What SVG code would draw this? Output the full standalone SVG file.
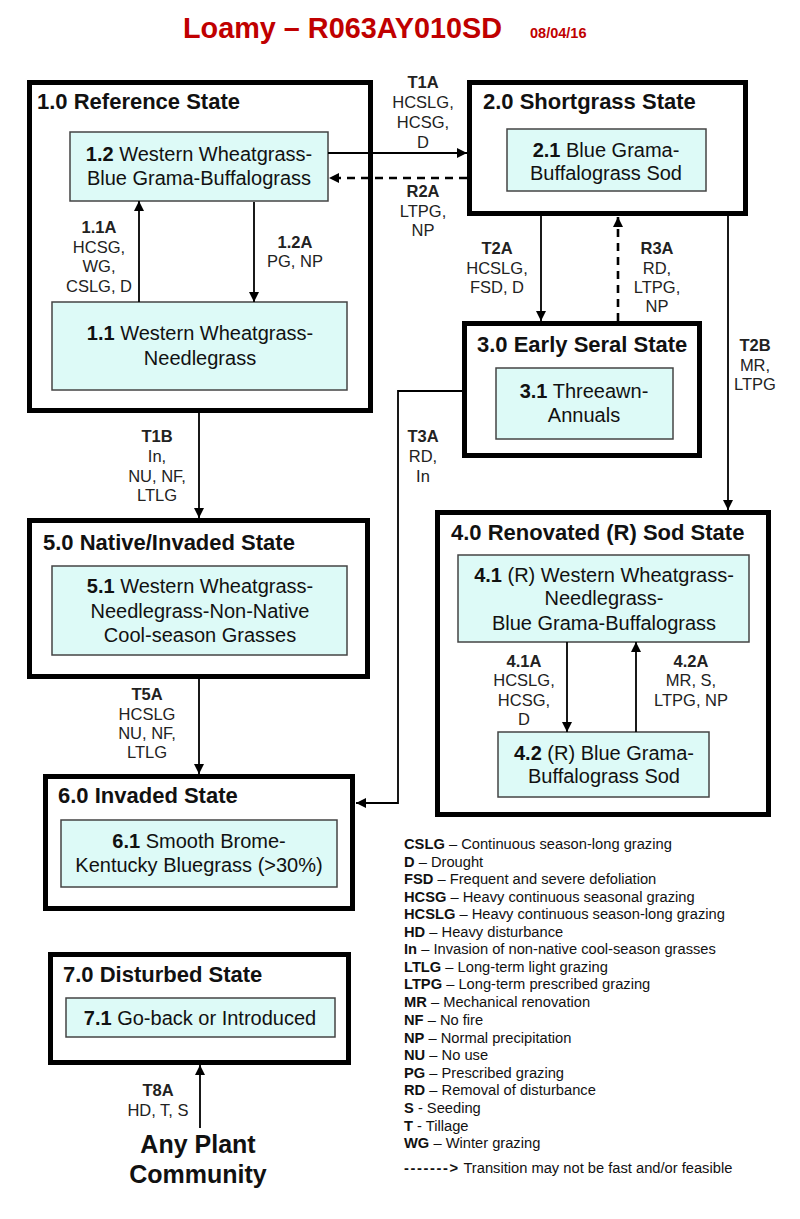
<svg xmlns="http://www.w3.org/2000/svg" width="800" height="1219" viewBox="0 0 800 1219">
<style>
text{font-family:"Liberation Sans",Arial,sans-serif;fill:#111}
.state{fill:#fff;stroke:#000;stroke-width:5}
.comm{fill:#ddfaf7;stroke:#444;stroke-width:1.5}
.st{font-size:22px;font-weight:bold}
.ct{font-size:20px;text-anchor:middle}
.b{font-weight:bold}
.lbl{font-size:16.5px;text-anchor:middle;fill:#222}
.leg{font-size:14.7px}
.con{fill:none;stroke:#000;stroke-width:1.8;marker-end:url(#ah)}
.dash{fill:none;stroke:#000;stroke-width:2.6;stroke-dasharray:8 6;marker-end:url(#ah)}
</style>
<defs>
<marker id="ah" markerUnits="userSpaceOnUse" markerWidth="10" markerHeight="10" refX="10" refY="5" orient="auto">
<path d="M0,0 L10,5 L0,10 z" fill="#000"/>
</marker>
</defs>
<rect width="800" height="1219" fill="#fff"/>
<g id="title">
<text x="183" y="38" font-size="28.8" font-weight="bold" style="fill:#c00000">Loamy – R063AY010SD</text>
<text x="530" y="38" font-size="14.5" font-weight="bold" style="fill:#c00000">08/04/16</text>
</g>
<g id="state1">
<rect class="state" x="29.5" y="82.5" width="341" height="328"/>
<text class="st" x="37" y="109">1.0 Reference State</text>
</g>
<g id="c12">
<rect class="comm" x="70" y="132" width="258" height="69"/>
<text class="ct" x="199" y="161"><tspan class="b">1.2</tspan> Western Wheatgrass-</text>
<text class="ct" x="199" y="185">Blue Grama-Buffalograss</text>
</g>
<g id="c11">
<rect class="comm" x="52" y="302" width="295" height="88"/>
<text class="ct" x="200" y="340"><tspan class="b">1.1</tspan> Western Wheatgrass-</text>
<text class="ct" x="200" y="365">Needlegrass</text>
</g>
<g id="state2">
<rect class="state" x="469.5" y="82.5" width="276" height="131"/>
<text class="st" x="483" y="109">2.0 Shortgrass State</text>
</g>
<g id="c21">
<rect class="comm" x="507" y="129" width="199" height="62"/>
<text class="ct" x="606" y="157"><tspan class="b">2.1</tspan> Blue Grama-</text>
<text class="ct" x="606" y="180">Buffalograss Sod</text>
</g>
<g id="state3">
<rect class="state" x="464.5" y="323.5" width="235" height="132"/>
<text class="st" x="477" y="352">3.0 Early Seral State</text>
</g>
<g id="c31">
<rect class="comm" x="496" y="368" width="177" height="71"/>
<text class="ct" x="584" y="398"><tspan class="b">3.1</tspan> Threeawn-</text>
<text class="ct" x="584" y="422">Annuals</text>
</g>
<g id="state4">
<rect class="state" x="437.5" y="512.5" width="331" height="302"/>
<text class="st" x="451" y="540">4.0 Renovated (R) Sod State</text>
</g>
<g id="c41">
<rect class="comm" x="458" y="555" width="291" height="87"/>
<text class="ct" x="604" y="582"><tspan class="b">4.1</tspan> (R) Western Wheatgrass-</text>
<text class="ct" x="604" y="605">Needlegrass-</text>
<text class="ct" x="604" y="630">Blue Grama-Buffalograss</text>
</g>
<g id="c42">
<rect class="comm" x="498" y="732" width="211" height="65"/>
<text class="ct" x="604" y="760"><tspan class="b">4.2</tspan> (R) Blue Grama-</text>
<text class="ct" x="604" y="783">Buffalograss Sod</text>
</g>
<g id="state5">
<rect class="state" x="29.5" y="520.5" width="338" height="156"/>
<text class="st" x="43" y="550">5.0 Native/Invaded State</text>
</g>
<g id="c51">
<rect class="comm" x="52" y="566" width="295" height="89"/>
<text class="ct" x="200" y="593"><tspan class="b">5.1</tspan> Western Wheatgrass-</text>
<text class="ct" x="200" y="618">Needlegrass-Non-Native</text>
<text class="ct" x="200" y="642">Cool-season Grasses</text>
</g>
<g id="state6">
<rect class="state" x="45.5" y="776.5" width="307" height="132"/>
<text class="st" x="58" y="803">6.0 Invaded State</text>
</g>
<g id="c61">
<rect class="comm" x="61" y="820" width="276" height="67"/>
<text class="ct" x="199" y="848"><tspan class="b">6.1</tspan> Smooth Brome-</text>
<text class="ct" x="199" y="872">Kentucky Bluegrass (&gt;30%)</text>
</g>
<g id="state7">
<rect class="state" x="50.5" y="954.5" width="298" height="108"/>
<text class="st" x="63" y="982">7.0 Disturbed State</text>
</g>
<g id="c71">
<rect class="comm" x="66" y="998" width="269" height="39"/>
<text class="ct" x="200" y="1025"><tspan class="b">7.1</tspan> Go-back or Introduced</text>
</g>
<g id="any">
<text x="198" y="1153" font-size="25" font-weight="bold" text-anchor="middle">Any Plant</text>
<text x="198" y="1183" font-size="25" font-weight="bold" text-anchor="middle">Community</text>
</g>
<g id="connectors">
<path class="con" d="M139,302 V201"/>
<path class="con" d="M254,202 V302"/>
<path class="con" d="M328,153 H467"/>
<path class="dash" d="M467,178 H329"/>
<path class="con" d="M541,216 V321"/>
<path class="dash" d="M618,321 V217"/>
<path class="con" d="M728,216 V510"/>
<path class="con" d="M462,391 H398 V803 H356"/>
<path class="con" d="M199,413 V518"/>
<path class="con" d="M199,679 V774"/>
<path class="con" d="M567,642 V732"/>
<path class="con" d="M636,732 V642"/>
<path class="con" d="M200,1128 V1065"/>
</g>
<g id="labels">
<text class="lbl" x="99" y="233"><tspan class="b">1.1A</tspan></text>
<text class="lbl" x="99" y="253">HCSG,</text>
<text class="lbl" x="99" y="272">WG,</text>
<text class="lbl" x="99" y="292">CSLG, D</text>
<text class="lbl" x="295" y="248"><tspan class="b">1.2A</tspan></text>
<text class="lbl" x="295" y="267">PG, NP</text>
<text class="lbl" x="423" y="88"><tspan class="b">T1A</tspan></text>
<text class="lbl" x="423" y="108">HCSLG,</text>
<text class="lbl" x="423" y="128">HCSG,</text>
<text class="lbl" x="423" y="148">D</text>
<text class="lbl" x="423" y="197"><tspan class="b">R2A</tspan></text>
<text class="lbl" x="423" y="217">LTPG,</text>
<text class="lbl" x="423" y="236">NP</text>
<text class="lbl" x="497" y="254"><tspan class="b">T2A</tspan></text>
<text class="lbl" x="497" y="274">HCSLG,</text>
<text class="lbl" x="497" y="293">FSD, D</text>
<text class="lbl" x="657" y="254"><tspan class="b">R3A</tspan></text>
<text class="lbl" x="657" y="274">RD,</text>
<text class="lbl" x="657" y="293">LTPG,</text>
<text class="lbl" x="657" y="312">NP</text>
<text class="lbl" x="755" y="351"><tspan class="b">T2B</tspan></text>
<text class="lbl" x="755" y="371">MR,</text>
<text class="lbl" x="755" y="390">LTPG</text>
<text class="lbl" x="423" y="442"><tspan class="b">T3A</tspan></text>
<text class="lbl" x="423" y="462">RD,</text>
<text class="lbl" x="423" y="482">In</text>
<text class="lbl" x="157" y="442"><tspan class="b">T1B</tspan></text>
<text class="lbl" x="157" y="462">In,</text>
<text class="lbl" x="157" y="482">NU, NF,</text>
<text class="lbl" x="157" y="501">LTLG</text>
<text class="lbl" x="147" y="700"><tspan class="b">T5A</tspan></text>
<text class="lbl" x="147" y="720">HCSLG</text>
<text class="lbl" x="147" y="739">NU, NF,</text>
<text class="lbl" x="147" y="758">LTLG</text>
<text class="lbl" x="524" y="667"><tspan class="b">4.1A</tspan></text>
<text class="lbl" x="524" y="686">HCSLG,</text>
<text class="lbl" x="524" y="706">HCSG,</text>
<text class="lbl" x="524" y="725">D</text>
<text class="lbl" x="691" y="667"><tspan class="b">4.2A</tspan></text>
<text class="lbl" x="691" y="686">MR, S,</text>
<text class="lbl" x="691" y="706">LTPG, NP</text>
<text class="lbl" x="158" y="1096"><tspan class="b">T8A</tspan></text>
<text class="lbl" x="158" y="1116">HD, T, S</text>
</g>
<g id="legend" class="leg">
<text class="leg" x="404" y="849"><tspan class="b">CSLG</tspan> – Continuous season-long grazing</text>
<text class="leg" x="404" y="867"><tspan class="b">D</tspan> – Drought</text>
<text class="leg" x="404" y="884"><tspan class="b">FSD</tspan> – Frequent and severe defoliation</text>
<text class="leg" x="404" y="902"><tspan class="b">HCSG</tspan> – Heavy continuous seasonal grazing</text>
<text class="leg" x="404" y="919"><tspan class="b">HCSLG</tspan> – Heavy continuous season-long grazing</text>
<text class="leg" x="404" y="937"><tspan class="b">HD</tspan> – Heavy disturbance</text>
<text class="leg" x="404" y="954"><tspan class="b">In</tspan> – Invasion of non-native cool-season grasses</text>
<text class="leg" x="404" y="972"><tspan class="b">LTLG</tspan> – Long-term light grazing</text>
<text class="leg" x="404" y="989"><tspan class="b">LTPG</tspan> – Long-term prescribed grazing</text>
<text class="leg" x="404" y="1007"><tspan class="b">MR</tspan> – Mechanical renovation</text>
<text class="leg" x="404" y="1025"><tspan class="b">NF</tspan> – No fire</text>
<text class="leg" x="404" y="1043"><tspan class="b">NP</tspan> – Normal precipitation</text>
<text class="leg" x="404" y="1060"><tspan class="b">NU</tspan> – No use</text>
<text class="leg" x="404" y="1078"><tspan class="b">PG</tspan> – Prescribed grazing</text>
<text class="leg" x="404" y="1095"><tspan class="b">RD</tspan> – Removal of disturbance</text>
<text class="leg" x="404" y="1113"><tspan class="b">S</tspan> - Seeding</text>
<text class="leg" x="404" y="1131"><tspan class="b">T</tspan> - Tillage</text>
<text class="leg" x="404" y="1148"><tspan class="b">WG</tspan> – Winter grazing</text>
<text class="leg" x="404" y="1173"><tspan class="b" letter-spacing="1.6">-------&gt;</tspan> Transition may not be fast and/or feasible</text>
</g>
</svg>
